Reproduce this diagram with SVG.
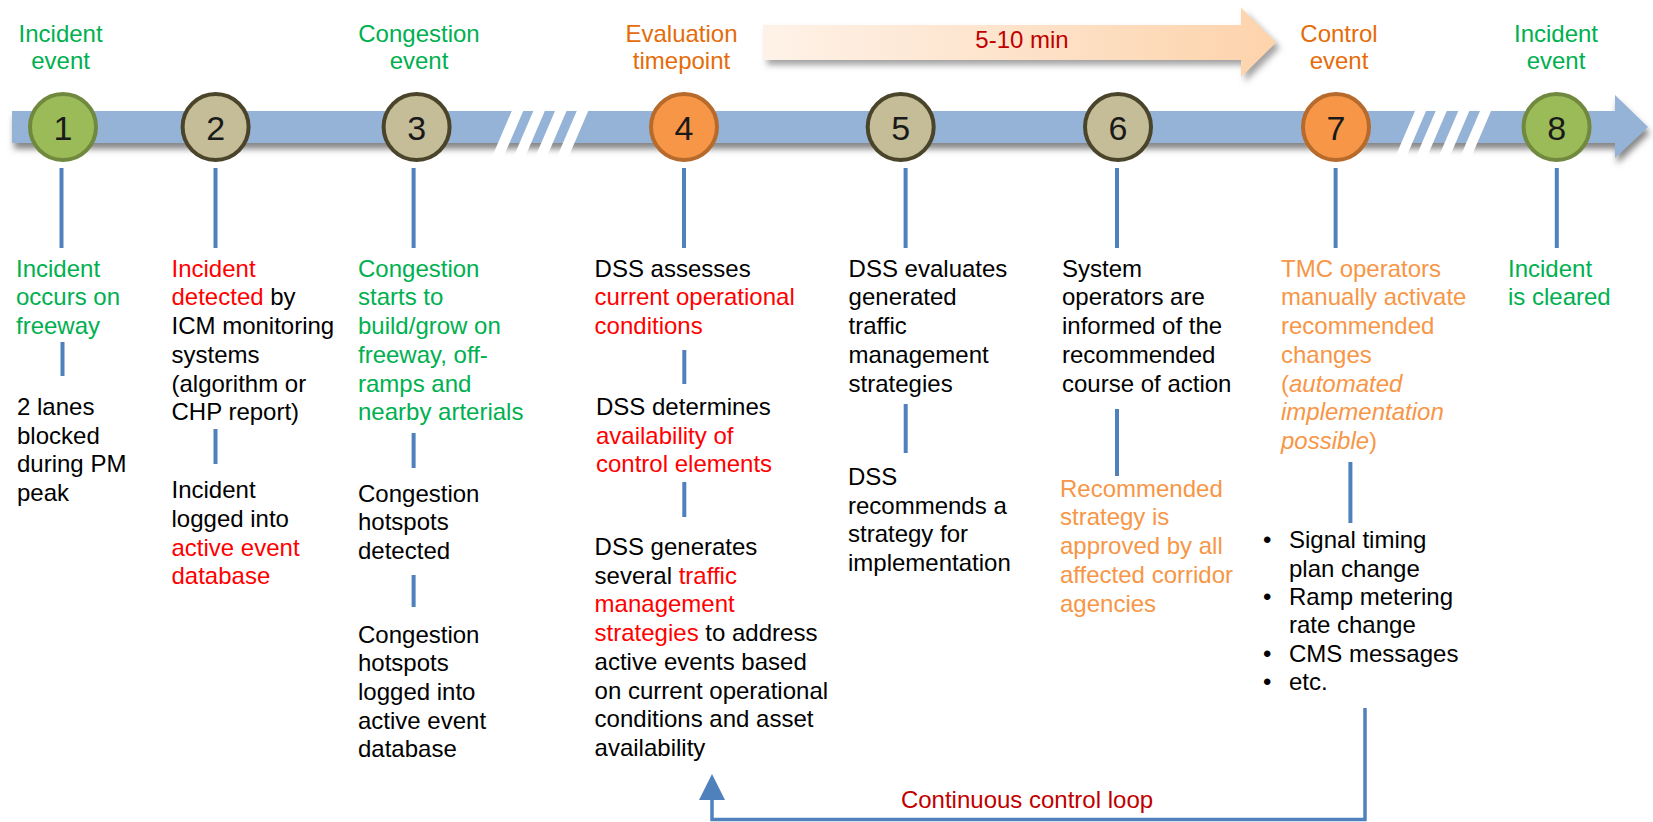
<svg xmlns="http://www.w3.org/2000/svg" width="1653" height="822" viewBox="0 0 1653 822">
<style>
.t{font-family:"Liberation Sans",Arial,sans-serif;font-size:24px;fill:#000}
.c{text-anchor:middle}
.g{fill:#00B050}.r{fill:#FF0000}.o{fill:#F79646}.do{fill:#E46C0A}.dr{fill:#C00000}.k{fill:#000}
.i{font-style:italic}
.num{font-family:"Liberation Sans",Arial,sans-serif;font-size:34px;fill:#1a1a1a;text-anchor:middle}
.cg{fill:#9BBB59;stroke:#71893F;stroke-width:4}
.ct{fill:#C4BD97;stroke:#4A452A;stroke-width:4}
.co{fill:#F79646;stroke:#B66A2C;stroke-width:4}
.conn{stroke:#4F81BD;stroke-width:4;fill:none}
.gap{fill:#fff}
</style>
<defs>
<linearGradient id="peach" x1="0" y1="0" x2="1" y2="0">
<stop offset="0" stop-color="#FEF2E8"/>
<stop offset="1" stop-color="#FDD3AB"/>
</linearGradient>
<filter id="sh" x="-5%" y="-30%" width="110%" height="180%">
<feDropShadow dx="2" dy="6" stdDeviation="3" flood-color="#555" flood-opacity="0.7"/>
</filter>
<filter id="sh2" x="-5%" y="-30%" width="110%" height="180%">
<feDropShadow dx="4" dy="5" stdDeviation="3" flood-color="#666" flood-opacity="0.6"/>
</filter>
</defs>

<g id="timeline">
<polygon points="12,111 1615,111 1615,95 1648,127 1615,158 1615,143 12,143" fill="#95B3D7" filter="url(#sh)"/>
<g id="breaks">
<polygon class="gap" points="514.3,105 525.8,105 501.3,162 489.8,162"/>
<polygon class="gap" points="535.9,105 547.4,105 522.9,162 511.4,162"/>
<polygon class="gap" points="557.6,105 569.1,105 544.6,162 533.1,162"/>
<polygon class="gap" points="579.3,105 590.8,105 566.3,162 554.8,162"/>
<polygon class="gap" points="1417.6,105 1428.6,105 1404.1,162 1393.1,162"/>
<polygon class="gap" points="1438.3,105 1449.3,105 1424.8,162 1413.8,162"/>
<polygon class="gap" points="1460.9,105 1471.9,105 1447.4,162 1436.4,162"/>
<polygon class="gap" points="1482.6,105 1493.6,105 1469.1,162 1458.1,162"/>
</g>
</g>

<g id="duration">
<polygon points="763,25 1241,25 1241,7.5 1276,42.5 1241,77 1241,60 763,60" fill="url(#peach)" filter="url(#sh2)"/>
<text class="t c dr" x="1022" y="48">5-10 min</text>
</g>

<g id="connectors">
<line class="conn" x1="61.5" y1="168" x2="61.5" y2="248"/>
<line class="conn" x1="215.5" y1="168" x2="215.5" y2="248"/>
<line class="conn" x1="413.6" y1="168" x2="413.6" y2="248"/>
<line class="conn" x1="684" y1="168" x2="684" y2="248"/>
<line class="conn" x1="905.6" y1="168" x2="905.6" y2="248"/>
<line class="conn" x1="1117" y1="168" x2="1117" y2="248"/>
<line class="conn" x1="1335.6" y1="168" x2="1335.6" y2="248"/>
<line class="conn" x1="1556.8" y1="168" x2="1556.8" y2="248"/>
<line class="conn" x1="62.5" y1="342" x2="62.5" y2="376"/>
<line class="conn" x1="215.5" y1="429" x2="215.5" y2="464"/>
<line class="conn" x1="413.6" y1="433" x2="413.6" y2="468"/>
<line class="conn" x1="413.6" y1="575" x2="413.6" y2="607"/>
<line class="conn" x1="684.3" y1="350" x2="684.3" y2="384"/>
<line class="conn" x1="684.3" y1="482" x2="684.3" y2="517"/>
<line class="conn" x1="905.7" y1="404" x2="905.7" y2="453"/>
<line class="conn" x1="1117" y1="409" x2="1117" y2="476"/>
<line class="conn" x1="1350.4" y1="462" x2="1350.4" y2="523"/>
<g id="loop">
<polyline points="1365,708 1365,819.5 712,819.5 712,798" fill="none" stroke="#4F81BD" stroke-width="3.5"/>
<polygon points="712,774 699,800 725,800" fill="#4F81BD"/>
<text class="t c dr" x="1027" y="808">Continuous control loop</text>
</g>
</g>

<g id="step1">
<circle class="cg" cx="63" cy="127" r="33"/>
<text class="num" x="63" y="140">1</text>
</g>
<g id="step2">
<circle class="ct" cx="215.6" cy="127" r="33"/>
<text class="num" x="215.6" y="140">2</text>
</g>
<g id="step3">
<circle class="ct" cx="416.6" cy="127" r="33"/>
<text class="num" x="416.6" y="140">3</text>
</g>
<g id="step4">
<circle class="co" cx="684" cy="127" r="33"/>
<text class="num" x="684" y="140">4</text>
</g>
<g id="step5">
<circle class="ct" cx="900.7" cy="127" r="33"/>
<text class="num" x="900.7" y="140">5</text>
</g>
<g id="step6">
<circle class="ct" cx="1118" cy="127" r="33"/>
<text class="num" x="1118" y="140">6</text>
</g>
<g id="step7">
<circle class="co" cx="1336" cy="127" r="33"/>
<text class="num" x="1336" y="140">7</text>
</g>
<g id="step8">
<circle class="cg" cx="1556.6" cy="127" r="33"/>
<text class="num" x="1556.6" y="140">8</text>
</g>

<g id="label-incident-event-1">
<text class="t c g" x="60.6" y="41.7">Incident</text>
<text class="t c g" x="60.6" y="69.3">event</text>
</g>
<g id="label-congestion-event">
<text class="t c g" x="419" y="41.7">Congestion</text>
<text class="t c g" x="419" y="69.3">event</text>
</g>
<g id="label-evaluation">
<text class="t c do" x="681.5" y="41.7">Evaluation</text>
<text class="t c do" x="681.5" y="69.3">timepoint</text>
</g>
<g id="label-control-event">
<text class="t c do" x="1339" y="41.7">Control</text>
<text class="t c do" x="1339" y="69.3">event</text>
</g>
<g id="label-incident-event-8">
<text class="t c g" x="1556" y="41.7">Incident</text>
<text class="t c g" x="1556" y="69.3">event</text>
</g>

<g id="col1a">
<text class="t g" x="16" y="276.7">Incident</text>
<text class="t g" x="16" y="305.4">occurs on</text>
<text class="t g" x="16" y="334.1">freeway</text>
</g>
<g id="col1b">
<text class="t" x="17" y="415">2 lanes</text>
<text class="t" x="17" y="443.7">blocked</text>
<text class="t" x="17" y="472.4">during PM</text>
<text class="t" x="17" y="501.1">peak</text>
</g>

<g id="col2a">
<text class="t r" x="171.5" y="276.7">Incident</text>
<text class="t" x="171.5" y="305.4"><tspan class="r">detected</tspan> by</text>
<text class="t" x="171.5" y="334.1">ICM monitoring</text>
<text class="t" x="171.5" y="362.8">systems</text>
<text class="t" x="171.5" y="391.5">(algorithm or</text>
<text class="t" x="171.5" y="420.2">CHP report)</text>
</g>
<g id="col2b">
<text class="t" x="171.5" y="498.3">Incident</text>
<text class="t" x="171.5" y="527">logged into</text>
<text class="t r" x="171.5" y="555.7">active event</text>
<text class="t r" x="171.5" y="584.4">database</text>
</g>

<g id="col3a">
<text class="t g" x="358" y="276.7">Congestion</text>
<text class="t g" x="358" y="305.4">starts to</text>
<text class="t g" x="358" y="334.1">build/grow on</text>
<text class="t g" x="358" y="362.8">freeway, off-</text>
<text class="t g" x="358" y="391.5">ramps and</text>
<text class="t g" x="358" y="420.2">nearby arterials</text>
</g>
<g id="col3b">
<text class="t" x="358" y="501.7">Congestion</text>
<text class="t" x="358" y="530.4">hotspots</text>
<text class="t" x="358" y="559.1">detected</text>
</g>
<g id="col3c">
<text class="t" x="358" y="642.5">Congestion</text>
<text class="t" x="358" y="671.2">hotspots</text>
<text class="t" x="358" y="699.9">logged into</text>
<text class="t" x="358" y="728.6">active event</text>
<text class="t" x="358" y="757.3">database</text>
</g>

<g id="col4a">
<text class="t" x="594.6" y="276.7">DSS assesses</text>
<text class="t r" x="594.6" y="305.4">current operational</text>
<text class="t r" x="594.6" y="334.1">conditions</text>
</g>
<g id="col4b">
<text class="t" x="596" y="415">DSS determines</text>
<text class="t r" x="596" y="443.7">availability of</text>
<text class="t r" x="596" y="472.4">control elements</text>
</g>
<g id="col4c">
<text class="t" x="594.6" y="555">DSS generates</text>
<text class="t" x="594.6" y="583.7">several <tspan class="r">traffic</tspan></text>
<text class="t r" x="594.6" y="612.4">management</text>
<text class="t" x="594.6" y="641.1"><tspan class="r">strategies</tspan> to address</text>
<text class="t" x="594.6" y="669.8">active events based</text>
<text class="t" x="594.6" y="698.5">on current operational</text>
<text class="t" x="594.6" y="727.2">conditions and asset</text>
<text class="t" x="594.6" y="755.9">availability</text>
</g>

<g id="col5a">
<text class="t" x="848.6" y="276.7">DSS evaluates</text>
<text class="t" x="848.6" y="305.4">generated</text>
<text class="t" x="848.6" y="334.1">traffic</text>
<text class="t" x="848.6" y="362.8">management</text>
<text class="t" x="848.6" y="391.5">strategies</text>
</g>
<g id="col5b">
<text class="t" x="848" y="485">DSS</text>
<text class="t" x="848" y="513.7">recommends a</text>
<text class="t" x="848" y="542.4">strategy for</text>
<text class="t" x="848" y="571.1">implementation</text>
</g>

<g id="col6a">
<text class="t" x="1062" y="276.7">System</text>
<text class="t" x="1062" y="305.4">operators are</text>
<text class="t" x="1062" y="334.1">informed of the</text>
<text class="t" x="1062" y="362.8">recommended</text>
<text class="t" x="1062" y="391.5">course of action</text>
</g>
<g id="col6b">
<text class="t o" x="1060" y="496.7">Recommended</text>
<text class="t o" x="1060" y="525.4">strategy is</text>
<text class="t o" x="1060" y="554.1">approved by all</text>
<text class="t o" x="1060" y="582.8">affected corridor</text>
<text class="t o" x="1060" y="611.5">agencies</text>
</g>

<g id="col7a">
<text class="t o" x="1281" y="276.7">TMC operators</text>
<text class="t o" x="1281" y="305.4">manually activate</text>
<text class="t o" x="1281" y="334.1">recommended</text>
<text class="t o" x="1281" y="362.8">changes</text>
<text class="t o" x="1281" y="391.5">(<tspan class="i">automated</tspan></text>
<text class="t o i" x="1281" y="420.2">implementation</text>
<text class="t o" x="1281" y="448.9"><tspan class="i">possible</tspan>)</text>
</g>
<g id="col7b">
<text class="t" x="1263" y="548.3">•</text>
<text class="t" x="1289" y="548.3">Signal timing</text>
<text class="t" x="1289" y="577">plan change</text>
<text class="t" x="1263" y="605">•</text>
<text class="t" x="1289" y="605">Ramp metering</text>
<text class="t" x="1289" y="633.4">rate change</text>
<text class="t" x="1263" y="661.7">•</text>
<text class="t" x="1289" y="661.7">CMS messages</text>
<text class="t" x="1263" y="690">•</text>
<text class="t" x="1289" y="690">etc.</text>
</g>

<g id="col8a">
<text class="t g" x="1508" y="276.7">Incident</text>
<text class="t g" x="1508" y="305.4">is cleared</text>
</g>
</svg>
